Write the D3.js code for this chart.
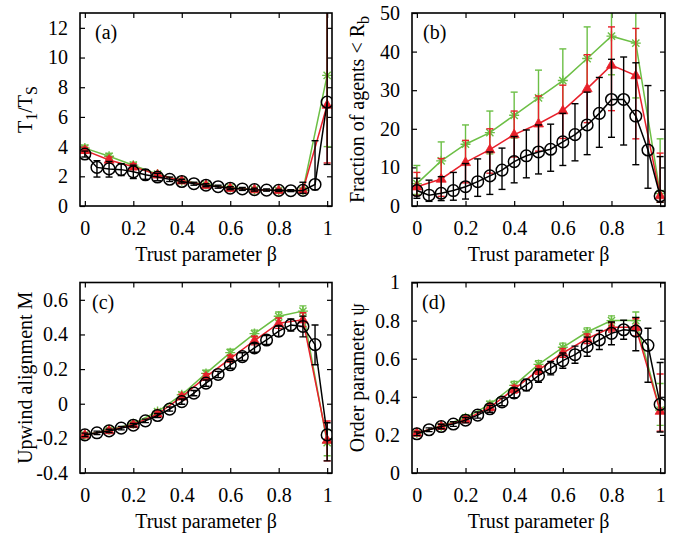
<!DOCTYPE html>
<html>
<head>
<meta charset="utf-8">
<script src="https://cdn.jsdelivr.net/npm/d3@7"></script>
<style>
  html, body { margin: 0; padding: 0; background: #fff; }
  svg { display: block; font-family: "Liberation Serif", "Times New Roman", serif; }
</style>
</head>
<body>
<svg id="fig" width="685" height="536"></svg>
<script>
// ---- trust parameter grids ----
const betaFine = [0, 0.05, 0.1, 0.15, 0.2, 0.25, 0.3, 0.35, 0.4, 0.45, 0.5, 0.55, 0.6, 0.65, 0.7, 0.75, 0.8, 0.85, 0.9, 0.95, 1];
const betaCoarse = [0, 0.1, 0.2, 0.3, 0.4, 0.5, 0.6, 0.7, 0.8, 0.9, 1];

// ---- axis ticks ----
const xTicks = [0, 0.2, 0.4, 0.6, 0.8, 1];
const xTickLabels = ["0", "0.2", "0.4", "0.6", "0.8", "1"];
const aYTicks = [0, 2, 4, 6, 8, 10, 12];
const aYTickLabels = ["0", "2", "4", "6", "8", "10", "12"];
const bYTicks = [0, 10, 20, 30, 40, 50];
const bYTickLabels = ["0", "10", "20", "30", "40", "50"];
const cYTicks = [-0.4, -0.2, 0, 0.2, 0.4, 0.6];
const cYTickLabels = ["-0.4", "-0.2", "0", "0.2", "0.4", "0.6"];
const dYTicks = [0, 0.2, 0.4, 0.6, 0.8, 1];
const dYTickLabels = ["0", "0.2", "0.4", "0.6", "0.8", "1"];

// ---- (a) T1/TS ----
const aBlack   = [3.5, 2.6, 2.5, 2.45, 2.3, 2.1, 1.95, 1.8, 1.65, 1.5, 1.4, 1.3, 1.2, 1.15, 1.1, 1.07, 1.05, 1.03, 1.05, 1.45, 7.0];
const aBlackLo = [3.3, 1.95, 1.95, 2.05, 1.85, 1.8, 1.7, 1.65, 1.55, 1.4, 1.3, 1.2, 1.1, 1.05, 1.0, 1.0, 0.98, 0.97, 0.85, 1.1, 2.8];
const aBlackHi = [3.7, 3.05, 3.0, 2.85, 2.75, 2.45, 2.2, 1.95, 1.8, 1.6, 1.5, 1.4, 1.3, 1.25, 1.2, 1.15, 1.12, 1.1, 1.6, 4.4, 14];
const aRed     = [3.75, 3.1, 2.65, 2.1, 1.7, 1.4, 1.2, 1.1, 1.05, 1.05, 6.8];
const aRedLo   = [3.55, 2.9, 2.45, 1.95, 1.6, 1.32, 1.13, 1.03, 0.98, 0.95, 2.9];
const aRedHi   = [3.95, 3.3, 2.85, 2.25, 1.8, 1.48, 1.27, 1.17, 1.12, 1.15, 14];
const aGreen   = [3.9, 3.35, 2.75, 2.15, 1.7, 1.45, 1.25, 1.1, 1.05, 1.05, 8.8];
const aGreenLo = [3.7, 3.15, 2.55, 2.0, 1.6, 1.37, 1.18, 1.03, 0.98, 0.95, 4.0];
const aGreenHi = [4.1, 3.55, 2.95, 2.3, 1.8, 1.53, 1.32, 1.17, 1.12, 1.15, 14];

// ---- (b) fraction of agents < Rb ----
const bBlack   = [4.0, 2.8, 3.3, 4.0, 5.0, 6.3, 7.8, 9.3, 11.5, 13.0, 14.0, 14.7, 16.6, 18.5, 21.0, 24.0, 27.6, 27.6, 23.3, 14.5, 2.6];
const bBlackLo = [2.0, 1.2, 1.4, 1.5, 1.8, 2.5, 3.0, 4.3, 6.0, 7.3, 8.3, 9.0, 10.5, 11.7, 13.3, 15.2, 17.8, 15.8, 10.7, 4.6, 1.0];
const bBlackHi = [7.2, 6.7, 7.6, 8.7, 11.0, 12.2, 14.0, 15.0, 18.0, 19.7, 21.0, 21.2, 24.0, 26.5, 29.5, 33.3, 38.0, 38.6, 37.1, 31.2, 12.8];
const bRed     = [5.0, 7.0, 11.3, 14.6, 18.5, 21.3, 24.7, 30.4, 36.5, 33.8, 2.7];
const bRedLo   = [2.7, 2.5, 6.0, 8.5, 12.7, 14.2, 17.5, 21.6, 24.7, 17.4, 1.0];
const bRedHi   = [8.7, 12.3, 17.0, 20.0, 24.6, 28.5, 31.3, 39.2, 46.4, 46.0, 13.7];
const bGreen   = [5.8, 11.7, 16.0, 19.0, 23.5, 28.0, 32.5, 38.2, 44.0, 42.2, 3.2];
const bGreenLo = [3.0, 6.5, 11.0, 13.5, 17.6, 21.0, 24.5, 30.0, 34.0, 28.0, 1.0];
const bGreenHi = [10.5, 16.6, 21.0, 24.6, 29.5, 35.2, 40.7, 46.4, 54.0, 56.0, 17.4];

// ---- (c) upwind alignment M ----
const cBlack   = [-0.18, -0.168, -0.157, -0.141, -0.124, -0.099, -0.068, -0.031, 0.012, 0.061, 0.119, 0.169, 0.225, 0.272, 0.322, 0.368, 0.419, 0.455, 0.446, 0.341, -0.18];
const cBlackLo = [-0.19, -0.178, -0.167, -0.151, -0.134, -0.109, -0.08, -0.043, -0.003, 0.046, 0.101, 0.151, 0.205, 0.25, 0.297, 0.343, 0.389, 0.42, 0.386, 0.225, -0.33];
const cBlackHi = [-0.17, -0.158, -0.147, -0.131, -0.114, -0.089, -0.056, -0.019, 0.027, 0.076, 0.137, 0.187, 0.245, 0.294, 0.347, 0.393, 0.449, 0.49, 0.506, 0.455, -0.11];
const cRed     = [-0.18, -0.155, -0.12, -0.06, 0.04, 0.155, 0.26, 0.365, 0.465, 0.485, -0.21];
const cRedLo   = [-0.19, -0.165, -0.13, -0.072, 0.025, 0.137, 0.24, 0.34, 0.435, 0.445, -0.33];
const cRedHi   = [-0.17, -0.145, -0.11, -0.048, 0.055, 0.173, 0.28, 0.39, 0.495, 0.525, -0.1];
const cGreen   = [-0.18, -0.15, -0.115, -0.045, 0.052, 0.175, 0.295, 0.405, 0.505, 0.535, -0.225];
const cGreenLo = [-0.19, -0.16, -0.125, -0.057, 0.037, 0.157, 0.275, 0.385, 0.48, 0.505, -0.3];
const cGreenHi = [-0.17, -0.14, -0.105, -0.033, 0.067, 0.193, 0.315, 0.425, 0.53, 0.565, -0.15];

// ---- (d) order parameter psi ----
const dBlack   = [0.206, 0.227, 0.244, 0.257, 0.277, 0.304, 0.337, 0.373, 0.42, 0.462, 0.511, 0.55, 0.59, 0.621, 0.663, 0.698, 0.733, 0.752, 0.745, 0.670, 0.36];
const dBlackLo = [0.196, 0.217, 0.232, 0.245, 0.263, 0.288, 0.319, 0.353, 0.395, 0.432, 0.476, 0.515, 0.55, 0.576, 0.613, 0.648, 0.673, 0.702, 0.642, 0.476, 0.215];
const dBlackHi = [0.216, 0.237, 0.256, 0.269, 0.291, 0.32, 0.355, 0.393, 0.445, 0.492, 0.546, 0.585, 0.63, 0.666, 0.713, 0.748, 0.793, 0.802, 0.817, 0.76, 0.58];
const dRed     = [0.21, 0.245, 0.28, 0.345, 0.44, 0.54, 0.63, 0.705, 0.765, 0.765, 0.325];
const dRedLo   = [0.2, 0.233, 0.266, 0.328, 0.42, 0.518, 0.607, 0.68, 0.74, 0.72, 0.22];
const dRedHi   = [0.22, 0.257, 0.294, 0.362, 0.46, 0.562, 0.653, 0.73, 0.79, 0.81, 0.52];
const dGreen   = [0.21, 0.245, 0.29, 0.36, 0.46, 0.57, 0.66, 0.74, 0.80, 0.80, 0.33];
const dGreenLo = [0.2, 0.233, 0.276, 0.343, 0.44, 0.55, 0.638, 0.718, 0.775, 0.755, 0.25];
const dGreenHi = [0.22, 0.257, 0.304, 0.377, 0.48, 0.59, 0.682, 0.762, 0.825, 0.845, 0.47];

// ---- styling ----
const GREEN = "#6cbf45", RED = "#e8202a", BLACK = "#000";
const FONT = 20;

const svg = d3.select("#fig");
svg.append("rect").attr("width", 685).attr("height", 536).attr("fill", "#fff");

function zip(xs, ys, lo, hi) {
  return xs.map((x, i) => ({ x, y: ys[i], lo: lo[i], hi: hi[i] }));
}
function series(color, marker, xs, ys, lo, hi) {
  return { color, marker, pts: zip(xs, ys, lo, hi) };
}

const panels = [
  { tag: "(a)", box: [80, 332, 13, 206], yDomain: [0, 13], yTicks: aYTicks, yTickLabels: aYTickLabels,
    ylabel: [["T", 0], ["1", 1], ["/T", 0], ["S", 1]], ylabelX: 25, tagDx: 15,
    series: [series(GREEN, "star", betaCoarse, aGreen, aGreenLo, aGreenHi),
             series(RED, "tri", betaCoarse, aRed, aRedLo, aRedHi),
             series(BLACK, "circle", betaFine, aBlack, aBlackLo, aBlackHi)] },
  { tag: "(b)", box: [412, 665, 13, 206], yDomain: [0, 50], yTicks: bYTicks, yTickLabels: bYTickLabels,
    ylabel: [["Fraction of agents < R", 0], ["b", 1]], ylabelX: 357, tagDx: 11,
    series: [series(GREEN, "star", betaCoarse, bGreen, bGreenLo, bGreenHi),
             series(RED, "tri", betaCoarse, bRed, bRedLo, bRedHi),
             series(BLACK, "circle", betaFine, bBlack, bBlackLo, bBlackHi)] },
  { tag: "(c)", box: [80, 332, 282.5, 473], yDomain: [-0.4, 0.7], yTicks: cYTicks, yTickLabels: cYTickLabels,
    ylabel: [["Upwind alignment M", 0]], ylabelX: 25, tagDx: 12,
    series: [series(GREEN, "star", betaCoarse, cGreen, cGreenLo, cGreenHi),
             series(RED, "tri", betaCoarse, cRed, cRedLo, cRedHi),
             series(BLACK, "circle", betaFine, cBlack, cBlackLo, cBlackHi)] },
  { tag: "(d)", box: [412, 665, 282.5, 473], yDomain: [0, 1], yTicks: dYTicks, yTickLabels: dYTickLabels,
    ylabel: [["Order parameter ψ", 0]], ylabelX: 357, tagDx: 10,
    series: [series(GREEN, "star", betaCoarse, dGreen, dGreenLo, dGreenHi),
             series(RED, "tri", betaCoarse, dRed, dRedLo, dRedHi),
             series(BLACK, "circle", betaFine, dBlack, dBlackLo, dBlackHi)] }
];

const defs = svg.append("defs");

panels.forEach((p, pi) => {
  const [L, R, T, B] = p.box;
  const x = d3.scaleLinear().domain([-0.02, 1.02]).range([L, R]);
  const y = d3.scaleLinear().domain(p.yDomain).range([B, T]);
  const g = svg.append("g");

  const clipId = "clip" + pi;
  defs.append("clipPath").attr("id", clipId)
    .append("rect").attr("x", L).attr("y", T).attr("width", R - L).attr("height", B - T);

  // axes with inward ticks, mirrored on top and right
  const tick = 5;
  const fmtX = (d, i) => xTickLabels[i];
  const fmtY = (d, i) => p.yTickLabels[i];
  const axB = g.append("g").attr("transform", `translate(0,${B})`)
    .call(d3.axisBottom(x).tickValues(xTicks).tickFormat(fmtX).tickSizeInner(-tick).tickSizeOuter(0).tickPadding(15));
  const axT = g.append("g").attr("transform", `translate(0,${T})`)
    .call(d3.axisTop(x).tickValues(xTicks).tickFormat("").tickSizeInner(-tick).tickSizeOuter(0));
  const axL = g.append("g").attr("transform", `translate(${L},0)`)
    .call(d3.axisLeft(y).tickValues(p.yTicks).tickFormat(fmtY).tickSizeInner(-tick).tickSizeOuter(0).tickPadding(12));
  const axR = g.append("g").attr("transform", `translate(${R},0)`)
    .call(d3.axisRight(y).tickValues(p.yTicks).tickFormat("").tickSizeInner(-tick).tickSizeOuter(0));
  [axB, axT, axL, axR].forEach(a => {
    a.select(".domain").remove();
    a.selectAll("line").attr("stroke", "#000").attr("stroke-width", 1.2);
    a.selectAll("text").attr("font-family", "Liberation Serif, serif").attr("font-size", FONT).attr("fill", "#000");
  });

  // data layer
  const data = g.append("g").attr("clip-path", `url(#${clipId})`);
  const line = d3.line().x(d => x(d.x)).y(d => y(d.y));
  const cap = 3.5;

  p.series.forEach(s => {
    const sg = data.append("g");
    // error bars
    const eb = sg.selectAll("g.eb").data(s.pts).join("g").attr("stroke", s.color).attr("stroke-width", 1.4);
    eb.append("line").attr("x1", d => x(d.x)).attr("x2", d => x(d.x)).attr("y1", d => y(d.lo)).attr("y2", d => y(d.hi));
    eb.append("line").attr("x1", d => x(d.x) - cap).attr("x2", d => x(d.x) + cap).attr("y1", d => y(d.lo)).attr("y2", d => y(d.lo));
    eb.append("line").attr("x1", d => x(d.x) - cap).attr("x2", d => x(d.x) + cap).attr("y1", d => y(d.hi)).attr("y2", d => y(d.hi));
    // connecting line
    sg.append("path").datum(s.pts).attr("d", line).attr("fill", "none").attr("stroke", s.color).attr("stroke-width", 1.5);
    // point markers
    const m = sg.selectAll("g.pt").data(s.pts).join("g").attr("transform", d => `translate(${x(d.x)},${y(d.y)})`);
    if (s.marker === "circle") {
      m.append("circle").attr("r", 5.8).attr("fill", "none").attr("stroke", s.color).attr("stroke-width", 1.5);
    } else if (s.marker === "tri") {
      m.append("path").attr("d", "M0,-5.5L5,3.2L-5,3.2Z").attr("fill", s.color).attr("stroke", s.color).attr("stroke-width", 0.8);
    } else {
      m.append("path").attr("d", "M-5,0H5M0,-5V5M-3.6,-3.6L3.6,3.6M-3.6,3.6L3.6,-3.6")
        .attr("fill", "none").attr("stroke", s.color).attr("stroke-width", 1.4);
    }
  });

  // frame
  g.append("rect").attr("x", L).attr("y", T).attr("width", R - L).attr("height", B - T)
    .attr("fill", "none").attr("stroke", "#000").attr("stroke-width", 1.6);

  // panel tag
  g.append("text").attr("x", L + p.tagDx).attr("y", T + 26).attr("font-size", FONT).text(p.tag);

  // x title
  g.append("text").attr("x", (L + R) / 2).attr("y", B + 55).attr("text-anchor", "middle")
    .attr("font-size", FONT).text("Trust parameter β");

  // y title (rotated, with subscripts)
  const yt = g.append("text").attr("transform", `translate(${p.ylabelX},${(T + B) / 2}) rotate(-90)`)
    .attr("text-anchor", "middle").attr("dy", "0.35em").attr("font-size", FONT);
  let shifted = false;
  p.ylabel.forEach(([txt, sub]) => {
    const ts = yt.append("tspan").text(txt);
    if (sub && !shifted) { ts.attr("dy", 5).attr("font-size", FONT * 0.8); shifted = true; }
    else if (!sub && shifted) { ts.attr("dy", -5); shifted = false; }
  });
});
</script>
</body>
</html>
